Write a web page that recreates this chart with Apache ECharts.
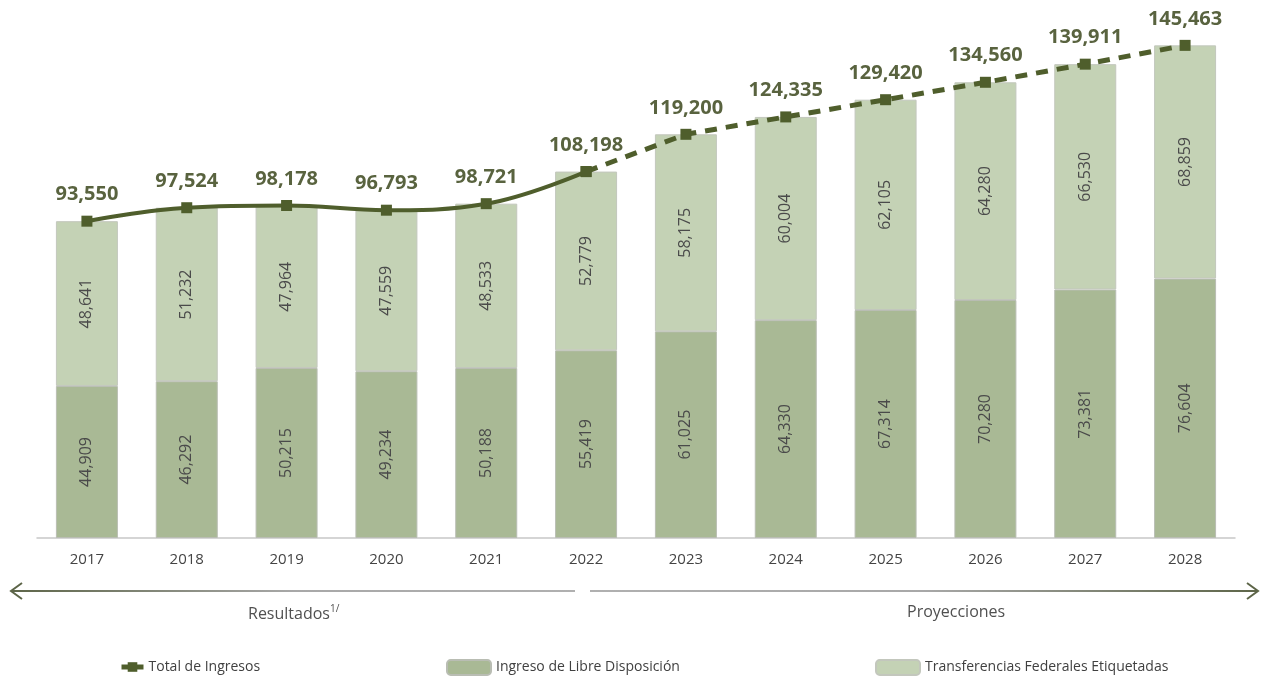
<!DOCTYPE html>
<html>
<head>
<meta charset="utf-8">
<script src="https://cdn.jsdelivr.net/npm/echarts@6/dist/echarts.min.js"></script>
<style>html,body{margin:0;padding:0;background:#fff;}#c{width:1263px;height:677px;}</style>
</head>
<body>
<div id="c"></div>
<script>
const years = ['2017','2018','2019','2020','2021','2022','2023','2024','2025','2026','2027','2028'];
const libreDisposicion = [44909,46292,50215,49234,50188,55419,61025,64330,67314,70280,73381,76604];
const transferencias = [48641,51232,47964,47559,48533,52779,58175,60004,62105,64280,66530,68859];
const totalIngresos = [93550,97524,98178,96793,98721,108198,119200,124335,129420,134560,139911,145463];
const lastResultIndex = 5;

const solid = totalIngresos.map((v,i)=> i<=lastResultIndex ? v : '-');
const dashed = totalIngresos.map((v,i)=> i>=lastResultIndex ? v : '-');
const font = "'Open Sans', 'Noto Sans', sans-serif";
const lineColor = '#4f5e2c';
const fmt = v => Number(v).toLocaleString('en-US');

const chart = echarts.init(document.getElementById('c'));
chart.setOption({
  animation:false,
  textStyle:{fontFamily:font},
  grid:{left:37,right:28,top:30,bottom:139},
  xAxis:{type:'category',data:years,
    axisLine:{lineStyle:{color:'#c8c8c8',width:1.5}},
    axisTick:{show:false},
    axisLabel:{color:'#444',fontSize:15,margin:14,fontFamily:font}},
  yAxis:{type:'value',min:0,max:150000,show:false,splitLine:{show:false}},
  legend:[
    {left:114,top:655,itemWidth:22,itemHeight:12,itemGap:8,textStyle:{fontSize:14,color:'#404040',fontFamily:font},
      lineStyle:{width:5},data:['Total de Ingresos']},
    {left:441,top:654,itemWidth:44,itemHeight:15,itemGap:8,textStyle:{fontSize:14,color:'#404040',fontFamily:font},data:['Ingreso de Libre Disposición']},
    {left:870,top:654,itemWidth:44,itemHeight:15,textStyle:{fontSize:14,color:'#404040',fontFamily:font},data:['Transferencias Federales Etiquetadas']}
  ],
  series:[
    {name:'Ingreso de Libre Disposición',type:'bar',stack:'t',barWidth:62,data:libreDisposicion,
      itemStyle:{color:'#a9b995',borderColor:'#b9bdb3',borderWidth:1},
      label:{show:true,rotate:90,position:'inside',color:'#4a4a4a',fontSize:16,fontFamily:font,formatter:p=>fmt(p.value)}},
    {name:'Transferencias Federales Etiquetadas',type:'bar',stack:'t',barWidth:62,data:transferencias,
      itemStyle:{color:'#c4d2b5',borderColor:'#c3c7bd',borderWidth:1},
      label:{show:true,rotate:90,position:'inside',color:'#4a4a4a',fontSize:16,fontFamily:font,formatter:p=>fmt(p.value)}},
    {name:'Total de Ingresos',type:'line',data:solid,smooth:0.4,symbol:'rect',symbolSize:11,
      lineStyle:{color:lineColor,width:4},itemStyle:{color:lineColor},
      label:{show:true,position:'top',distance:11,color:'#59633f',fontSize:20,fontWeight:'bold',fontFamily:font,
        formatter:p=>p.dataIndex<lastResultIndex?fmt(p.value):''},z:5},
    {name:'Total de Ingresos',type:'line',data:dashed,symbol:'rect',symbolSize:11,
      lineStyle:{color:lineColor,width:5,type:[12,9]},itemStyle:{color:lineColor},
      label:{show:true,position:'top',distance:11,color:'#59633f',fontSize:20,fontWeight:'bold',fontFamily:font,
        formatter:p=>fmt(p.value)},z:5}
  ],
  graphic:[
    {type:'line',shape:{x1:12,y1:591,x2:575,y2:591},style:{stroke:new echarts.graphic.LinearGradient(0,0,1,0,[{offset:0,color:'#5d6548'},{offset:0.5,color:'#a8a8a8'},{offset:1,color:'#b0b0b0'}]),lineWidth:2}},
    {type:'polyline',shape:{points:[[22,583],[11,591],[22,599]]},style:{stroke:'#5d6548',lineWidth:2,fill:null}},
    {type:'line',shape:{x1:590,y1:591,x2:1257,y2:591},style:{stroke:new echarts.graphic.LinearGradient(0,0,1,0,[{offset:0,color:'#b0b0b0'},{offset:0.5,color:'#a8a8a8'},{offset:1,color:'#5d6548'}]),lineWidth:2}},
    {type:'polyline',shape:{points:[[1247,583],[1258,591],[1247,599]]},style:{stroke:'#5d6548',lineWidth:2,fill:null}},
    {type:'text',left:248,top:606,style:{text:'Resultados',fontSize:16,fill:'#505050',fontFamily:font}},
    {type:'text',left:330,top:604,style:{text:'1/',fontSize:10,fill:'#505050',fontFamily:font}},
    {type:'text',left:907,top:604,style:{text:'Proyecciones',fontSize:16,fill:'#505050',fontFamily:font}}
  ]
});
</script>
</body>
</html>
